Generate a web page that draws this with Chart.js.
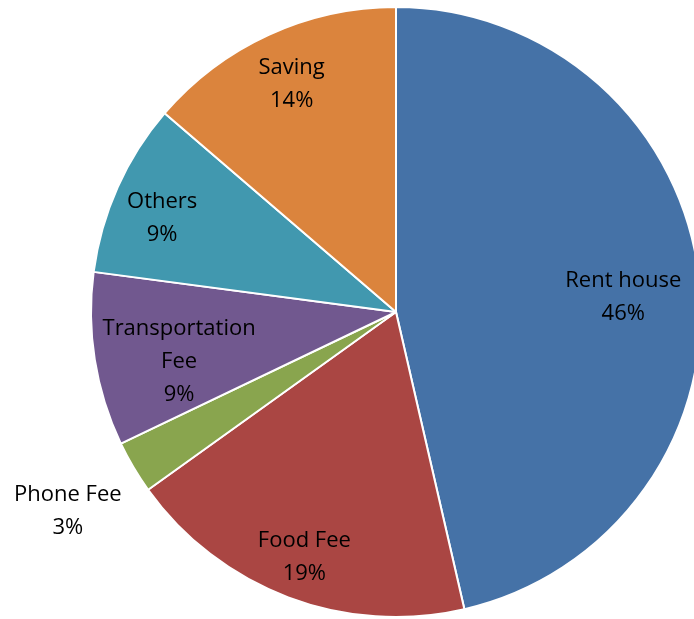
<!DOCTYPE html>
<html>
<head>
<meta charset="utf-8">
<script src="https://cdn.jsdelivr.net/npm/chart.js@4/dist/chart.umd.min.js"></script>
<style>
  html, body { margin: 0; padding: 0; background: #fff; overflow: hidden; }
  #wrap { position: absolute; left: 0; top: 0; width: 720px; height: 619px; }
</style>
</head>
<body>
<div id="wrap"><canvas id="pie"></canvas></div>
<script>
// values (share of budget, %)
const categories = ["Rent house", "Food Fee", "Phone Fee", "Transportation Fee", "Others", "Saving"];
const amounts = [46.4, 18.7, 2.8, 9.2, 9.2, 13.7];
const sliceColors = ["#4572A7", "#AA4643", "#89A54E", "#71588F", "#4198AF", "#DB843D"];

// label lines as the chart wraps them
const labelLines = [["Rent house"], ["Food Fee"], ["Phone Fee"], ["Transportation", "Fee"], ["Others"], ["Saving"]];
// how far out along the bisector each label sits (fraction of radius), plus a small vertical nudge
const labelRadius = [0.75, 0.85, 1.25, 0.72, 0.84, 0.82];
const labelNudge = [11, 3, 5, 15, 11, 0];

const sliceLabels = {
    id: 'sliceLabels',
    afterDatasetsDraw(chart) {
        const ctx = chart.ctx;
        const meta = chart.getDatasetMeta(0);
        const total = amounts.reduce((a, b) => a + b, 0);
        ctx.save();
        ctx.font = '22px "Open Sans"';
        ctx.fillStyle = '#000';
        ctx.textAlign = 'center';
        ctx.textBaseline = 'middle';
        meta.data.forEach((arc, i) => {
            const p = arc.getProps(['x', 'y', 'startAngle', 'endAngle', 'outerRadius'], true);
            const mid = (p.startAngle + p.endAngle) / 2;
            const r = p.outerRadius * labelRadius[i];
            const cx = p.x + Math.cos(mid) * r;
            const cy = p.y + Math.sin(mid) * r + labelNudge[i];
            const lines = [...labelLines[i], Math.round(amounts[i] / total * 100) + '%'];
            const lh = 33;
            const y0 = cy - (lines.length - 1) * lh / 2;
            lines.forEach((t, k) => ctx.fillText(t, cx, y0 + k * lh));
        });
        ctx.restore();
    }
};

new Chart(document.getElementById('pie').getContext('2d'), {
    type: 'pie',
    data: {
        labels: categories,
        datasets: [{
            data: amounts,
            backgroundColor: sliceColors,
            borderColor: '#ffffff',
            borderWidth: 2
        }]
    },
    options: {
        responsive: true,
        maintainAspectRatio: false,
        animation: false,
        layout: { padding: { left: 90, right: 18, top: 6, bottom: 1 } },
        plugins: {
            legend: { display: false },
            tooltip: { enabled: false }
        }
    },
    plugins: [sliceLabels]
});
</script>
</body>
</html>
